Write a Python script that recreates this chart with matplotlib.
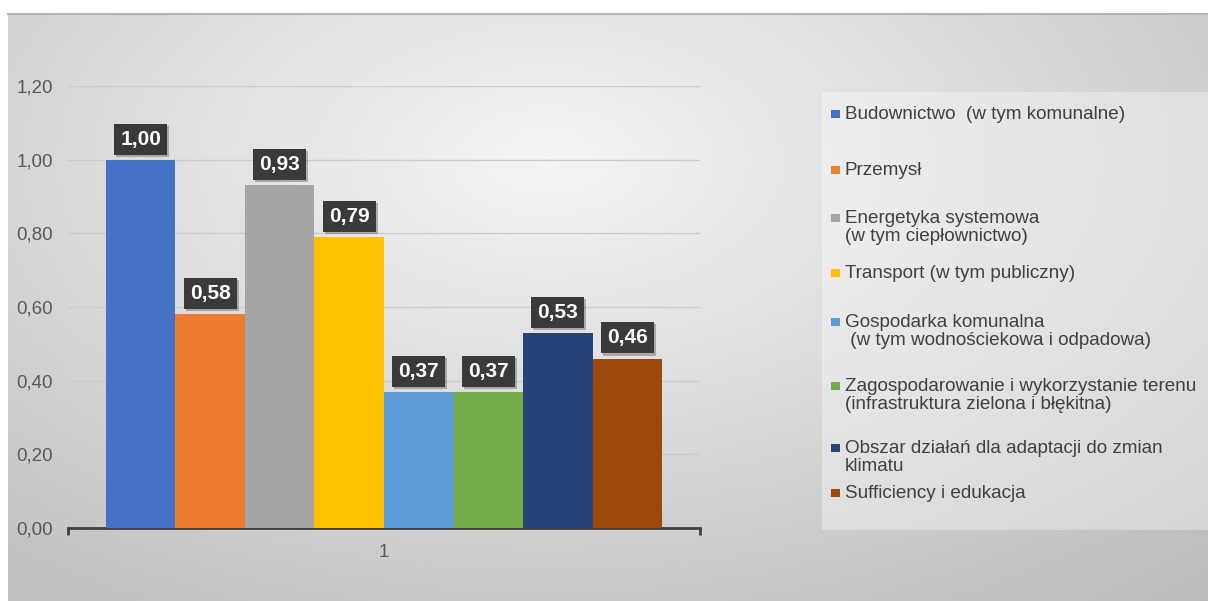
import numpy as np
import matplotlib.pyplot as plt
import matplotlib.patheffects as pe
from matplotlib.patches import Rectangle
from matplotlib.lines import Line2D

plt.rcParams['font.family'] = ['Liberation Sans', 'DejaVu Sans']

# data
series = [
    "Budownictwo  (w tym komunalne)",
    "Przemysł",
    "Energetyka systemowa\n(w tym ciepłownictwo)",
    "Transport (w tym publiczny)",
    "Gospodarka komunalna\n (w tym wodnościekowa i odpadowa)",
    "Zagospodarowanie i wykorzystanie terenu\n(infrastruktura zielona i błękitna)",
    "Obszar działań dla adaptacji do zmian\nklimatu",
    "Sufficiency i edukacja",
]
values = [1.00, 0.58, 0.93, 0.79, 0.37, 0.37, 0.53, 0.46]
colors = ["#4472C4", "#ED7D31", "#A5A5A5", "#FFC000",
          "#5B9BD5", "#70AD47", "#264478", "#9E480E"]
category = "1"
yticks = [0.0, 0.2, 0.4, 0.6, 0.8, 1.0, 1.2]

W, H = 1208, 601
fig = plt.figure(figsize=(W / 100, H / 100), dpi=100, facecolor="white")

# radial grey background
bg = fig.add_axes([8 / W, 0, 1 - 8 / W, 1 - 14 / H])
yy, xx = np.mgrid[0:1:200j, 0:1:400j]
r = np.sqrt(((xx - 0.45) / 0.8) ** 2 + ((yy - 0.25) / 0.95) ** 2)
shade = np.clip(0.96 - 0.22 * r, 0, 1)
bg.imshow(shade, cmap="gray", vmin=0, vmax=1, aspect="auto", origin="upper")
bg.axis("off")
fig.lines.append(Line2D([8 / W, 1], [1 - 14 / H, 1 - 14 / H], transform=fig.transFigure,
                        color="#b4b4b4", lw=1.5))

# chart
ax = fig.add_axes([68 / W, 1 - 528 / H, 632 / W, 442 / H])
ax.patch.set_alpha(0)
bw = 0.11
xs = (np.arange(len(values)) - (len(values) - 1) / 2) * bw
ax.bar(xs, values, width=bw, color=colors, zorder=3)

ax.set_xlim(-0.5, 0.5)
ax.set_ylim(0, 1.2)
ax.set_yticks(yticks)
ax.set_yticklabels([f"{v:.2f}".replace(".", ",") for v in yticks])
ax.yaxis.grid(True, color="#cccccc", lw=1)
ax.set_axisbelow(True)
for s in ["top", "right", "left"]:
    ax.spines[s].set_visible(False)
ax.spines["bottom"].set_color("#404040")
ax.spines["bottom"].set_linewidth(2)
ax.tick_params(axis="y", length=0, pad=10.8, labelsize=13.5, labelcolor="#595959")
ax.set_xticks([0])
ax.set_xticklabels([category])
ax.tick_params(axis="x", length=0, pad=11.5, labelsize=13.5, labelcolor="#595959")
ax.set_xticks([-0.5, 0.5], minor=True)
ax.tick_params(axis="x", which="minor", length=5, width=2, color="#404040", direction="out")

for x, v in zip(xs, values):
    t = ax.annotate(f"{v:.2f}".replace(".", ","), (x, v), xytext=(0, 8),
                    textcoords="offset points", ha="center", va="bottom",
                    color="white", fontsize=15, fontweight="bold", zorder=5,
                    bbox=dict(boxstyle="square,pad=0.29", fc="#3a3a3a", ec="none"))
    t.get_bbox_patch().set_path_effects(
        [pe.withSimplePatchShadow(offset=(1.5, -1.5), shadow_rgbFace="black", alpha=0.25)])

# legend panel
fig.patches.append(Rectangle((822 / W, 1 - 530 / H), (W - 822) / W, (530 - 92) / H,
                             transform=fig.transFigure, fc="white", alpha=0.35, ec="none"))
legend_rows_px = [112, 168, 216, 271, 320, 384, 446, 491]
line_step = 18
for name, c, py in zip(series, colors, legend_rows_px):
    fig.patches.append(Rectangle((831 / W, 1 - (py + 5.5) / H), 9 / W, 8 / H,
                                 transform=fig.transFigure, fc=c, ec="none"))
    extra = name.count("\n") * line_step
    fig.text(845 / W, 1 - (py + 6.7 + extra) / H, name, ha="left", va="baseline",
             fontsize=13.6, color="#404040", linespacing=1.09)

fig.savefig("out.png", dpi=100, facecolor="white")
